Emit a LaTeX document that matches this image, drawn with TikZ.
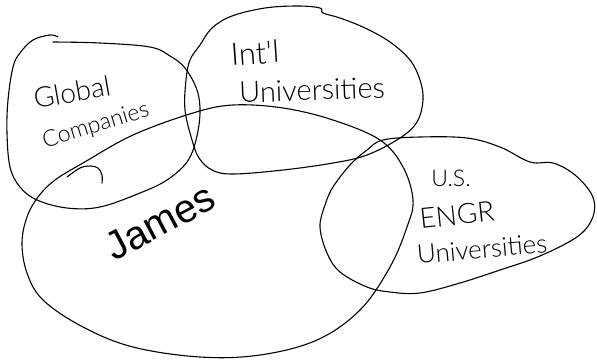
\documentclass[tikz,border=0pt]{standalone}
\usepackage{fontspec}
\setmainfont{Liberation Sans}
\newfontfamily\hand{Lato Light}
\begin{document}
\begin{tikzpicture}[x=1pt,y=-1pt,
  blob/.style={line width=1.1pt, line join=round, line cap=round},
  hw/.style={font=\hand, inner sep=0pt}]
\useasboundingbox (0,0) rectangle (597,360);
% Global Companies
\draw[blob] plot[smooth, tension=0.6] coordinates {(58,37) (50,35) (33,40) (20,53) (13,67) (8,100) (7,133) (10,167) (20,187) (37,200) (67,208) (100,207) (140,193) (167,180) (187,162) (196,140) (200,113) (197,90) (185,68) (170,56) (150,47) (100,43) (53,42)};
% Int'l Universities
\draw[blob] plot[smooth cycle, tension=0.6] coordinates {(186,80) (190,60) (200,45) (212,28) (232,16) (265,8) (298,6) (320,8) (323,13) (340,18) (365,28) (390,42) (410,60) (420,80) (423,100) (417,122) (400,138) (367,155) (333,163) (283,170) (233,174) (212,170) (199,158) (192,140) (185,110)};
% James
\draw[blob] plot[smooth cycle, tension=0.6] coordinates {(233,105) (283,108) (333,120) (380,140) (403,167) (413,200) (407,227) (390,267) (360,310) (317,340) (260,355) (200,357) (133,347) (83,327) (43,300) (27,273) (22,243) (27,217) (38,197) (55,180) (83,163) (133,135) (193,113)};
% hook
\draw[blob] plot[smooth, tension=0.6] coordinates {(67,177) (80,168) (90,166) (98,168) (102,175) (102,183)};
% U.S. ENGR Universities
\draw[blob] plot[smooth cycle, tension=0.6] coordinates {(383,140) (420,137) (467,138) (500,147) (530,162) (553,163) (575,175) (592,195) (594,213) (585,230) (567,243) (535,258) (500,270) (460,283) (420,293) (390,292) (367,287) (340,272) (327,253) (320,227) (325,205) (333,187) (350,165) (367,150)};
% labels
\node[hw, font=\hand\fontsize{28}{30}\selectfont, rotate=10] (global) at (72,92) {Global};
\node[hw, font=\hand\fontsize{23}{25}\selectfont, rotate=17] (companies) at (96,126) {Companies};
\node[hw, font=\hand\fontsize{31}{33}\selectfont, rotate=4] (intl) at (255,53) {Int'l};
\node[hw, font=\hand\fontsize{29}{31}\selectfont, rotate=2] (univ1) at (312,90) {Universities};
\node[hw, font=\hand\fontsize{23}{25}\selectfont] (us) at (451,178) {U.S.};
\node[hw, font=\hand\fontsize{28}{30}\selectfont, rotate=6] (engr) at (457,215) {ENGR};
\node[hw, font=\hand\fontsize{26}{28}\selectfont, rotate=5] (univ2) at (482,249) {Universities};
\node[inner sep=0pt, font=\fontsize{40}{42}\selectfont, rotate=28] (james) at (160,222) {James};
\end{tikzpicture}
\end{document}
